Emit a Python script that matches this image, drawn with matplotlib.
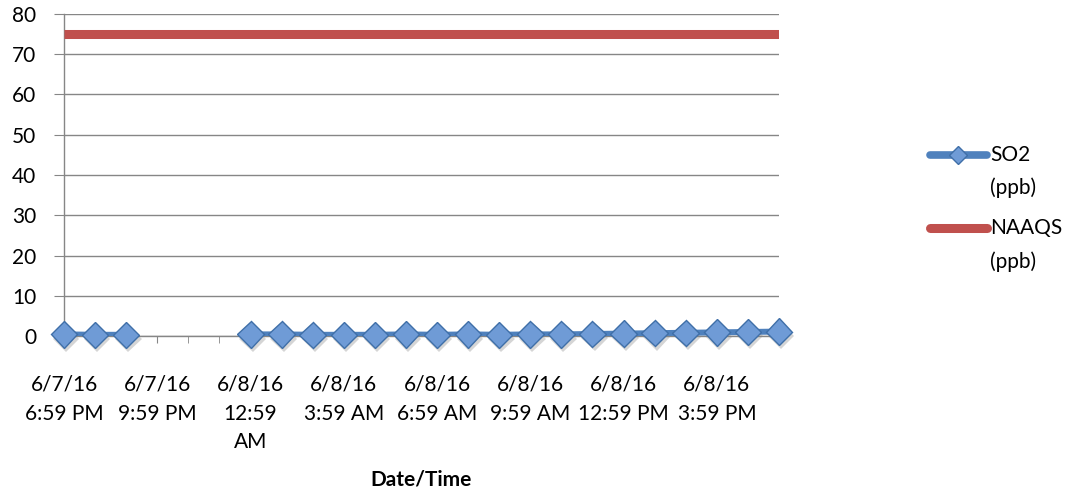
import numpy as np
import matplotlib.pyplot as plt
import matplotlib.patheffects as pe
from matplotlib.lines import Line2D

plt.rcParams['font.family'] = ['Lato', 'DejaVu Sans']

# hourly readings, 6/7/16 6:59 PM .. 6/8/16 5:59 PM (nan = no data)
so2_ppb = [0.4, 0.3, 0.3, np.nan, np.nan, np.nan,
           0.4, 0.4, 0.3, 0.3, 0.3, 0.4, 0.3, 0.4, 0.3, 0.4,
           0.4, 0.5, 0.6, 0.7, 0.8, 0.9, 1.0, 1.1]
naaqs_ppb = [75] * 24
tick_labels = ['6/7/16\n6:59 PM', '6/7/16\n9:59 PM', '6/8/16\n12:59\nAM',
               '6/8/16\n3:59 AM', '6/8/16\n6:59 AM', '6/8/16\n9:59 AM',
               '6/8/16\n12:59 PM', '6/8/16\n3:59 PM']

BLUE = '#4f81bd'
RED = '#c0504d'
GRID = '#868686'
FS = 15

fig = plt.figure(figsize=(10.78, 4.95), dpi=100)
ax = fig.add_axes([64 / 1078, 1 - 336 / 495, 715 / 1078, 322 / 495])

x = np.arange(len(so2_ppb))
ax.plot(x, naaqs_ppb, color=RED, lw=6.5, solid_capstyle='butt', zorder=3)
ax.plot(x, so2_ppb, color=BLUE, lw=4.3, zorder=4)
ax.plot(x, so2_ppb, ls='none', marker='D', ms=13.5, mfc='#6f9bd6', mec='#3f6fa8',
        mew=1, zorder=5, clip_on=False,
        path_effects=[pe.SimplePatchShadow(offset=(1.5, -3), shadow_rgbFace='#888888', alpha=0.35),
                      pe.Normal()])

ax.set_xlim(0, len(x) - 1)
ax.set_ylim(0, 80)
ax.set_yticks(range(0, 81, 10))
ax.set_xticks(x, minor=True)
ax.set_xticks(x[::3])
ax.set_xticklabels(tick_labels, fontsize=FS, linespacing=1.55, va='top')
ax.tick_params(axis='y', labelsize=FS, length=7, color=GRID, pad=13)
ax.tick_params(axis='x', which='both', length=5, color=GRID, pad=23)
ax.grid(axis='y', color=GRID, lw=1)
ax.set_axisbelow(True)
for s in ['top', 'right']:
    ax.spines[s].set_visible(False)
for s in ['left', 'bottom']:
    ax.spines[s].set_color(GRID)
    ax.spines[s].set_linewidth(1)

ax.set_xlabel('Date/Time', fontsize=FS, fontweight='bold', labelpad=12)

# legend drawn by hand so the handle sits on the first text line
def fy(py):
    return 1 - py / 495

fig.add_artist(Line2D([930 / 1078, 987 / 1078], [fy(155), fy(155)], color=BLUE, lw=5.5,
                      solid_capstyle='round'))
fig.add_artist(Line2D([958 / 1078], [fy(155)], marker='D', ms=9, mfc='#6f9bd6', mec='#3f6fa8'))
fig.text(990 / 1078, fy(155), 'SO2', fontsize=FS, va='center')
fig.text(990 / 1078, fy(188), '(ppb)', fontsize=FS, va='center')
fig.add_artist(Line2D([930 / 1078, 987 / 1078], [fy(228), fy(228)], color=RED, lw=6.5,
                      solid_capstyle='round'))
fig.text(990 / 1078, fy(228), 'NAAQS', fontsize=FS, va='center')
fig.text(990 / 1078, fy(262), '(ppb)', fontsize=FS, va='center')

fig.savefig('out.png', dpi=100)
